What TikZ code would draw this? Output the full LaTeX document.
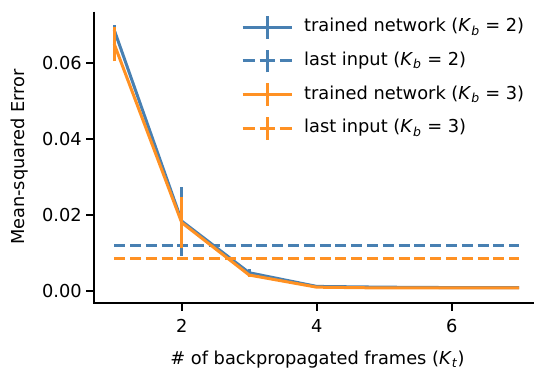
\documentclass[tikz,border=0pt]{standalone}
\usepackage{fontspec}
\setmainfont{DejaVu Sans}
\definecolor{netblue}{RGB}{72,128,178}
\definecolor{netorange}{RGB}{255,145,35}
\def\Ksub#1{\textit{K}\textsubscript{\textit{#1}}}

\begin{document}
\begin{tikzpicture}[x=1pt,y=1pt,
  every node/.style={font=\fontsize{17.8}{21}\selectfont,inner sep=0pt},
  spine/.style={line width=1.6pt},
  trained/.style={line width=3pt,line join=round},
  lastin/.style={line width=3pt,dash pattern=on 11pt off 4.8pt},
  legdash/.style={line width=3pt,dash pattern=on 12pt off 5pt on 15pt off 5pt on 12pt off 5pt},
  ebar/.style={line width=3pt}]
\useasboundingbox (0,0) rectangle (534,369);
% axes and ticks
\draw[spine] (94,357.3) -- (94,66.3) -- (534,66.3);
\foreach \v/\lbl [count=\i] in {78/0.00,154/0.02,230/0.04,306/0.06}{
  \draw[spine] (94,\v) -- (86,\v);
  \node[anchor=east] (ytick\i) at (82,\v) {\lbl};}
\foreach \u/\lbl [count=\i] in {181.7/2,316.7/4,451.7/6}{
  \draw[spine] (\u,66.3) -- (\u,58.3);
  \node[anchor=north] (xtick\i) at (\u,49.5) {\lbl};}
\node[anchor=base] (xlab) at (317.5,4.5) {\# of backpropagated frames (\Ksub{t})};
\node[anchor=base,rotate=90] (ylab) at (24.5,212) {Mean-squared Error};
% data
\begin{scope}[shift={(46.7,78)},x=67.5pt,y=3800pt]
\draw[trained,netblue] plot coordinates {(1,0.0687) (2,0.0184) (3,0.0048) (4,0.0012) (5,0.0010) (6,0.0009) (7,0.0009)};
\foreach \x/\y/\e in {1/0.0687/0.0012,2/0.0184/0.0091,3/0.0048/0.0011,4/0.0012/0.0003}
  \draw[ebar,netblue] ({\x},{\y-\e}) -- ({\x},{\y+\e});
\draw[lastin,netblue] (1,0.0121) -- (7,0.0121);
\draw[trained,netorange] plot coordinates {(1,0.0650) (2,0.0180) (3,0.0042) (4,0.0010) (5,0.0008) (6,0.0008) (7,0.0008)};
\foreach \x/\y/\e in {1/0.0650/0.0046,2/0.0180/0.0066,3/0.0042/0.0004,4/0.0010/0.0003}
  \draw[ebar,netorange] ({\x},{\y-\e}) -- ({\x},{\y+\e});
\draw[lastin,netorange] (1,0.0085) -- (7,0.0085);
\end{scope}
% legend
\foreach \c/\s/\k/\lbl [count=\i] in {netblue/trained/2/trained network,netblue/legdash/2/last input,netorange/trained/3/trained network,netorange/legdash/3/last input}{
  \coordinate (h\i) at (267,375.4-33.7*\i);
  \draw[\s,\c] ([xshift=-24.5pt]h\i) -- ([xshift=24.5pt]h\i);
  \draw[ebar,\c] ([yshift=-11.3pt]h\i) -- ([yshift=11.3pt]h\i);
  \node[anchor=base west] (leg\i) at (304,371-33.7*\i) {\lbl{} (\Ksub{b} = \k)};}
\end{tikzpicture}
\end{document}
